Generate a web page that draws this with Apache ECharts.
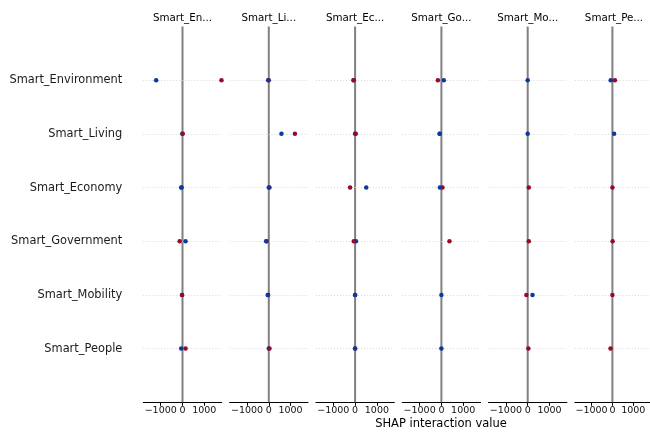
<!DOCTYPE html>
<html>
<head>
<meta charset="utf-8">
<style>html,body{margin:0;padding:0;background:#fff}#c{width:650px;height:432px}</style>
<script src="https://cdn.jsdelivr.net/npm/echarts@6/dist/echarts.min.js"></script>
</head>
<body>
<div id="c"></div>
<script>
const features = ['Smart_Environment', 'Smart_Living', 'Smart_Economy', 'Smart_Government', 'Smart_Mobility', 'Smart_People'];
const panelTitles = ['Smart_En...', 'Smart_Li...', 'Smart_Ec...', 'Smart_Go...', 'Smart_Mo...', 'Smart_Pe...'];
const tickValues = [-1000, 0, 1000];
const xLabel = 'SHAP interaction value';
// each point: [SHAP interaction value, row (1 = Smart_Environment ... 6 = Smart_People), high feature value 1 / low 0]
const envPoints = [[-1210,1,0],[1790,1,1],[-10,2,0],[10,2,1],[-40,3,1],[-60,3,0],[-130,4,1],[140,4,0],[-20,5,0],[-20,5,1],[-60,6,0],[140,6,1]];
const livPoints = [[0,1,1],[-30,1,0],[580,2,0],[1200,2,1],[30,3,1],[0,3,0],[-100,4,1],[-120,4,0],[-30,5,1],[-50,5,0],[0,6,0],[30,6,1]];
const ecoPoints = [[-60,1,0],[-80,1,1],[0,2,0],[30,2,1],[-230,3,1],[510,3,0],[40,4,0],[-60,4,1],[0,5,1],[0,5,0],[0,6,1],[0,6,0]];
const govPoints = [[-160,1,1],[110,1,0],[-80,2,1],[-80,2,0],[50,3,1],[-70,3,0],[370,4,1],[0,5,0],[0,6,0]];
const mobPoints = [[0,1,0],[0,2,0],[50,3,1],[50,4,1],[-60,5,1],[220,5,0],[30,6,1]];
const pepPoints = [[-80,1,0],[120,1,1],[80,2,0],[0,3,1],[10,4,1],[0,5,1],[-90,6,1]];
const panels = [envPoints, livPoints, ecoPoints, govPoints, mobPoints, pepPoints];

const LOW = '#0b3a9c', HIGH = '#980a28';
const FONT = 'DejaVu Sans';
const gLeft = 143.3, gStep = 86.3, gWidth = 78.4, gTop = 26.5, gHeight = 375.8;

const grid = [], xAxis = [], yAxis = [], series = [], graphic = [];
panels.forEach((pts, i) => {
  grid.push({left: gLeft + i * gStep, top: gTop, width: gWidth, height: gHeight, containLabel: false});
  xAxis.push({
    type: 'value', gridIndex: i, min: -1800, max: 1800, position: 'bottom',
    axisLine: {show: true, onZero: false, lineStyle: {color: '#000', width: 1}},
    axisTick: {show: true, customValues: tickValues, length: 3.5, lineStyle: {color: '#000', width: 1}},
    axisLabel: {customValues: tickValues, formatter: v => String(v).replace('-', '\u2212'), fontSize: 9.5, color: '#111', fontFamily: FONT, margin: 3},
    splitLine: {show: false}
  });
  yAxis.push({
    type: 'value', gridIndex: i, min: 0, max: 7, interval: 1, inverse: true,
    axisLine: {show: false}, axisTick: {show: false}, splitLine: {show: false},
    axisLabel: {show: i === 0, formatter: v => features[v - 1] || '', fontSize: 11.4, color: '#1a1a1a', fontFamily: FONT, margin: 21}
  });
  // dotted row guides
  series.push({
    type: 'line', xAxisIndex: i, yAxisIndex: i, data: [[0, 0]], showSymbol: false, symbol: 'none',
    lineStyle: {width: 0}, z: 1, silent: true,
    markLine: {
      silent: true, symbol: ['none', 'none'], label: {show: false}, animation: false,
      data: features.map((f, r) => ({yAxis: r + 1, lineStyle: {color: '#d8d8d8', width: 1, type: [1, 2]}}))
    }
  });
  // zero line
  series.push({
    type: 'line', xAxisIndex: i, yAxisIndex: i, data: [[0, 0], [0, 7]], showSymbol: false, symbol: 'none',
    lineStyle: {color: '#808080', width: 2}, z: 2, silent: true
  });
  series.push({
    type: 'scatter', xAxisIndex: i, yAxisIndex: i, symbolSize: 4.5, z: 5, silent: true,
    itemStyle: {borderWidth: 0, opacity: 1},
    emphasis: {disabled: true},
    data: pts.map(p => ({value: [p[0], p[1]], itemStyle: {color: p[2] ? HIGH : LOW, opacity: 1, borderWidth: 0}}))
  });
  graphic.push({
    type: 'text', x: gLeft + i * gStep + gWidth / 2, y: 18.5,
    style: {text: panelTitles[i], fill: '#000', font: '10.3px "DejaVu Sans"', textAlign: 'center', textVerticalAlign: 'middle'}
  });
});
graphic.push({
  type: 'text', x: 441, y: 424.5,
  style: {text: xLabel, fill: '#000', font: '11.5px "DejaVu Sans"', textAlign: 'center', textVerticalAlign: 'middle'}
});

const chart = echarts.init(document.getElementById('c'), null, {renderer: 'canvas'});
chart.setOption({animation: false, backgroundColor: '#fff', grid, xAxis, yAxis, series, graphic});
</script>
</body>
</html>
